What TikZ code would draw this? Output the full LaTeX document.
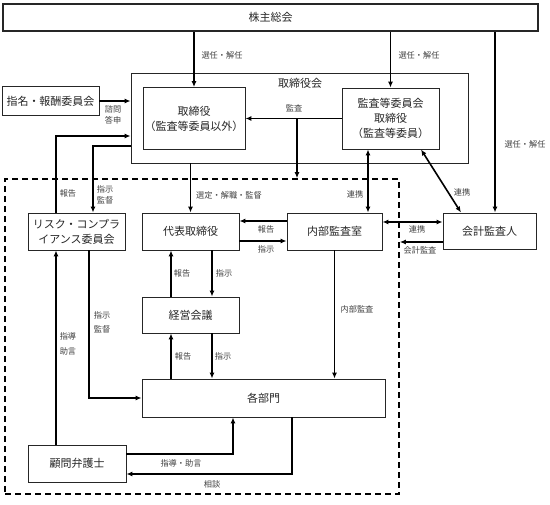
\documentclass[tikz,border=0pt]{standalone}
\usepackage{fontspec}
\setmainfont{Noto Sans CJK JP}
\usetikzlibrary{arrows.meta,calc}
\begin{document}
\begin{tikzpicture}[x=1pt,y=-1pt,
  box/.style={draw=black!85,line width=0.9pt,inner sep=1pt,align=center,font=\fontsize{11}{15}\selectfont,text=black!85},
  frame/.style={draw=black!85,line width=0.9pt,inner sep=0pt},
  arr/.style={line width=1.6pt,-{Latex[length=6pt,width=5pt]}},
  dbl/.style={line width=1.6pt,{Latex[length=6pt,width=5pt]}-{Latex[length=6pt,width=5pt]}},
  lab/.style={font=\fontsize{8.2}{10.5}\selectfont,text=black!75,inner sep=0pt,align=center},
  title/.style={font=\fontsize{11}{15}\selectfont,text=black!85,inner sep=0pt}]
\useasboundingbox (0,0) rectangle (550,505);
% nodes
\node[box,line width=2.4pt,minimum width=535pt,minimum height=27pt] (kabu) at (270.5,17.5) {株主総会};
\node[frame,minimum width=337pt,minimum height=90pt] (board) at (299.5,118) {};
\node[title] (boardlab) at (300,83) {取締役会};
\node[box,minimum width=102pt,minimum height=62pt] (tori) at (194,118.5) {取締役\\（監査等委員以外）};
\node[box,minimum width=97pt,minimum height=61pt] (kansa) at (390.5,118.5) {監査等委員会\\取締役\\（監査等委員）};
\node[box,minimum width=97pt,minimum height=29pt] (shimei) at (50.5,101) {指名・報酬委員会};
\node[box,minimum width=97pt,minimum height=37pt] (risk) at (76.5,231.5) {リスク・コンプラ\\イアンス委員会};
\node[box,minimum width=97pt,minimum height=37pt] (daihyo) at (190.5,231.5) {代表取締役};
\node[box,minimum width=95pt,minimum height=37pt] (naibu) at (334.5,231.5) {内部監査室};
\node[box,minimum width=93pt,minimum height=36pt] (kaikei) at (489.5,231) {会計監査人};
\node[box,minimum width=97pt,minimum height=36pt] (keiei) at (190.5,315) {経営会議};
\node[box,minimum width=243pt,minimum height=38pt] (kakubu) at (263.5,398) {各部門};
\node[box,minimum width=98pt,minimum height=37pt] (komon) at (77,463.5) {顧問弁護士};
\node[draw=black,line width=1.6pt,dash pattern=on 6pt off 4pt,inner sep=0pt,minimum width=394pt,minimum height=315pt] (inner) at (202,336.5) {};
% helper coordinates
\coordinate (c3) at (495,0);
\coordinate (c4) at (297,0);
\coordinate (p1) at (56,136);
\coordinate (p2) at (93,146);
\coordinate (p3) at (0,221);
\coordinate (p4) at (0,241);
\coordinate (x171) at (171,0);
\coordinate (x212) at (212,0);
\coordinate (x89) at (89,0);
\coordinate (p5) at (233,454);
\coordinate (p6) at (292,474);
\coordinate (x368) at (368,0);
\coordinate (d1) at (421,0);
\coordinate (d2) at (461,0);
\coordinate (p7) at (0,222);
\coordinate (p8) at (0,242);
% connectors
\draw[arr] (kabu.south -| tori.north) -- (tori.north);
\draw[arr] (kabu.south -| kansa.north) -- (kansa.north);
\draw[arr] (kabu.south -| c3) -- (kaikei.north -| c3);
\draw[arr] (shimei.east) -- (board.west |- shimei.east);
\draw[arr] (kansa.west) -- (tori.east |- kansa.west);
\draw[arr] (kansa.west -| c4) -- (inner.north -| c4);
\draw[arr] (risk.north -| p1) |- (board.west |- p1);
\draw[arr] (board.west |- p2) -| (risk.north -| p2);
\draw[arr] (board.south -| daihyo.north) -- (daihyo.north);
\draw[arr] (naibu.west |- p3) -- (daihyo.east |- p3);
\draw[arr] (daihyo.east |- p4) -- (naibu.west |- p4);
\draw[arr] (keiei.north -| x171) -- (daihyo.south -| x171);
\draw[arr] (daihyo.south -| x212) -- (keiei.north -| x212);
\draw[arr] (kakubu.north -| x171) -- (keiei.south -| x171);
\draw[arr] (keiei.south -| x212) -- (kakubu.north -| x212);
\draw[arr] (risk.south -| x89) |- (kakubu.west);
\draw[arr] (komon.north -| p1) -- (risk.south -| p1);
\draw[arr] (komon.east |- p5) -| (kakubu.south -| p5);
\draw[arr] (kakubu.south -| p6) |- (komon.east |- p6);
\draw[arr] (naibu.south) -- (kakubu.north -| naibu.south);
\draw[dbl] (kansa.south -| x368) -- (naibu.north -| x368);
\draw[dbl] (kansa.south -| d1) -- (kaikei.north -| d2);
\draw[dbl] (naibu.east |- p7) -- (kaikei.west |- p7);
\draw[arr] (kaikei.west |- p8) -- (inner.east |- p8);
% labels
\node[lab] (l1) at (222,55) {選任・解任};
\node[lab] (l2) at (419,55) {選任・解任};
\node[lab] (l3) at (525,144) {選任・解任};
\node[lab] (l4) at (113,115) {諮問\\答申};
\node[lab] (l5) at (294,108) {監査};
\node[lab] (l6) at (68,193) {報告};
\node[lab] (l7) at (105,195) {指示\\監督};
\node[lab] (l8) at (229,195) {選定・解職・監督};
\node[lab] (l9) at (266,229) {報告};
\node[lab] (l10) at (266,249) {指示};
\node[lab] (l11) at (182,273) {報告};
\node[lab] (l12) at (224,273) {指示};
\node[lab] (l13) at (183,356) {報告};
\node[lab] (l14) at (223,356) {指示};
\node[lab,font=\fontsize{8.2}{14}\selectfont] (l15) at (102,322) {指示\\監督};
\node[lab,font=\fontsize{8.2}{15}\selectfont] (l16) at (68,343.5) {指導\\助言};
\node[lab] (l17) at (181,463) {指導・助言};
\node[lab] (l18) at (212,484) {相談};
\node[lab] (l19) at (357,309) {内部監査};
\node[lab] (l20) at (355,194) {連携};
\node[lab] (l21) at (462,192) {連携};
\node[lab] (l22) at (417,229) {連携};
\node[lab] (l23) at (420,250) {会計監査};
\end{tikzpicture}
\end{document}
